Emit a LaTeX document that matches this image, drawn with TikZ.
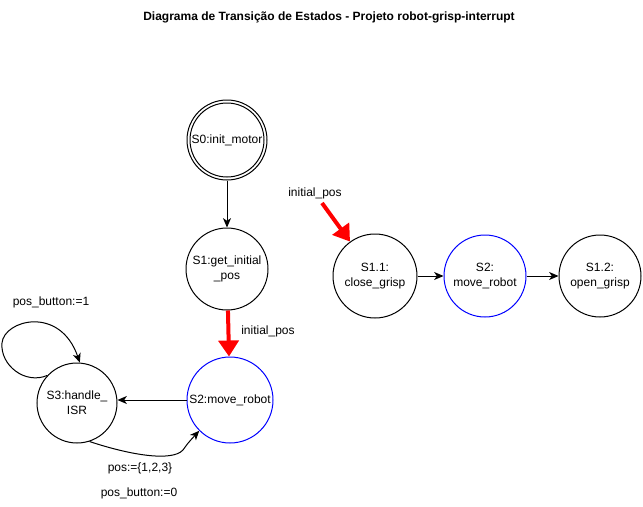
\documentclass[tikz,border=0pt]{standalone}
\usepackage{fontspec}
\setmainfont{Liberation Sans}
\usetikzlibrary{arrows.meta}

\begin{document}
\begin{tikzpicture}[x=0.75pt,y=0.75pt,yscale=-1,xscale=1,
  state/.style={circle,draw,line width=0.75pt,minimum size=61.5pt,inner sep=0pt,align=center,font=\fontsize{9}{11}\selectfont},
  lbl/.style={inner sep=0.75pt,font=\fontsize{9}{11}\selectfont},
  arr/.style={line width=0.75pt,-{Stealth[length=7pt,width=6pt,inset=2pt]}},
  redarr/.style={color={rgb, 255:red, 255; green, 0; blue, 0 },line width=3pt,-{Triangle[length=12pt,width=15pt]}}]
\useasboundingbox (0,0) rectangle (643,507);
% Title
\node [font=\fontsize{9}{11}\selectfont\bfseries] (title) at (329,17) {Diagrama de Transição de Estados - Projeto robot-grisp-interrupt};

% States, left part
\node [state,minimum size=60pt] (s0) at (227,140) {S0:init\_motor};
\draw [line width=0.75pt] (s0.center) circle (37);
\node [state] (s1) at (227,269) {S1:get\_initial\\\_pos};
\node [state,draw={rgb, 255:red, 0; green, 0; blue, 255 },minimum size=64.5pt] (s2) at (230,400) {S2:move\_robot};
\node [state,minimum size=60pt] (s3) at (77,403) {S3:handle\_\\ISR};

% States, right part
\node [state,minimum size=63pt] (s11) at (375,276) {S1.1:\\close\_grisp};
\node [state,draw={rgb, 255:red, 0; green, 0; blue, 255 }] (s2r) at (485,276) {S2:\\move\_robot};
\node [state] (s12) at (600,276) {S1.2:\\open\_grisp};

% Transitions, left part
\draw [arr] (s0) -- (s1);
\draw [redarr] (s1) -- (s2);
\node [lbl] (lip) at (268,331) {initial\_pos};
\draw [arr] (s2.west) -- (s2.west -| s3.east);
\draw [arr] (s3.137) .. controls (25,385) and (0,365) .. (2,343) .. controls (4,320) and (60,305) .. (s3.86);
\node [lbl] (lbtn1) at (51,302) {pos\_button:=1};
\draw [arr] (s3.-72) .. controls (130,455) and (172,462) .. (183,450) .. controls (188,443) .. (s2.225);
\node [lbl] (lpos) at (140,468) {pos:=\{1,2,3\}};
\node [lbl] (lbtn0) at (139,493) {pos\_button:=0};

% Transitions, right part
\coordinate (ip) at (322,203);
\node [lbl] (rip) at (315,193) {initial\_pos};
\draw [redarr] (ip) -- (s11.126);
\draw [arr] (s11) -- (s2r);
\draw [arr] (s2r) -- (s12);
\end{tikzpicture}
\end{document}
